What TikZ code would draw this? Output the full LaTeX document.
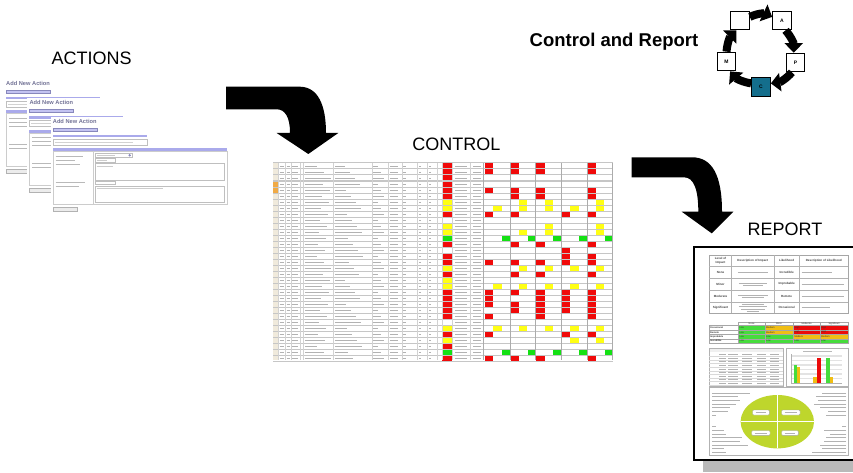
\documentclass[tikz,border=0pt]{standalone}
\usepackage{fontspec}
\setmainfont{Liberation Sans}
\usetikzlibrary{arrows.meta}
\definecolor{xred}{RGB}{240,10,10}
\definecolor{xyel}{RGB}{255,255,20}
\definecolor{xgrn}{RGB}{20,225,20}
\definecolor{rgrn}{RGB}{70,220,60}
\definecolor{rorg}{RGB}{240,190,20}
\definecolor{rred}{RGB}{235,10,10}
\definecolor{limeg}{RGB}{190,214,44}
\definecolor{tealc}{RGB}{20,110,140}
\definecolor{formbar}{RGB}{170,170,235}
\definecolor{formtitle}{RGB}{115,115,150}
\definecolor{sheetleft}{RGB}{240,234,220}
\definecolor{sheetorange}{RGB}{240,170,70}
\newcommand\scell[5]{\fill[#5] ({#1+#2},{163+6*(#3)}) rectangle ({#1+#2+8.3},{169+6*(#4)});}
\newcommand\mcell[3]{\fill[#3] (441.7,{163+6*(#1)}) rectangle (451.7,{169+6*(#2)});}
\newcommand\actionform[3]{%
\begin{scope}[shift={(#1,#2)}]
\fill[white] (-2,-2) rectangle (176,94);
\node[anchor=north west, inner sep=0pt, font=\fontsize{5.7}{6}\selectfont\bfseries, text=formtitle] (#3) at (0,0) {Add New Action};
\filldraw[fill=formbar!70, draw=formbar!80!black, line width=.3] (0,8.7) rectangle (44,11.7);
\fill[formbar] (0,16) rectangle (94,18.3);
\draw[gray!50, line width=.3] (0,20) rectangle (94,26);
\draw[gray!35, line width=.8] (2,23) -- (80,23);
\fill[formbar] (0,29.3) rectangle (174,32.7);
\draw[gray!40, line width=.4] (0,32.7) rectangle (174,85) (40.7,32.7) -- (40.7,85);
\foreach \yy/\w in {37/27,41/19,45.5/24,63.5/29,67.5/23} \draw[gray!55, line width=.8] (3,\yy) -- ++(\w,0);
\draw[gray!50, line width=.3] (42,34.5) rectangle (79,38) (42,39.3) rectangle (62,42.7) (42,44.5) rectangle (171.3,61) (42,62.3) rectangle (62,65.5) (42,67.2) rectangle (171.3,82.7);
\fill[formbar!80!black] (77,36.3) circle (1.3);
\draw[gray!40, line width=.7] (44,36.3) -- (62,36.3) (44,41) -- (54,41) (44,47) -- (60,47) (44,69.5) -- (110,69.5);
\filldraw[fill=gray!15, draw=gray!60, line width=.3] (0,87.7) rectangle (24.7,91.7);
\end{scope}}
\tikzset{
  lbl/.style={anchor=base, inner sep=0pt, font=\fontsize{18}{20}\selectfont},
  pbox/.style={draw, line width=1.2pt, minimum size=18.5pt, inner sep=0pt, font=\fontsize{5}{5}\selectfont\bfseries},
  cyc/.style={line width=8pt, -{Triangle[length=9.5pt,width=18pt]}},
  sq/.style={gray!60, line width=1pt},
  rt/.style={gray!60, line width=.8pt},
  tiny/.style={inner sep=0pt, font=\fontsize{3}{3.5}\selectfont\bfseries, text=black!75},
  tinier/.style={inner sep=0pt, font=\fontsize{2.4}{2.8}\selectfont, text=black!80}
}
\begin{document}
\begin{tikzpicture}[x=1pt,y=-1pt]
\clip (0,0) rectangle (853,473);
\fill[white] (0,0) rectangle (853,473);

% ---------- labels ----------
\node[lbl] (actions) at (91.7,65) {ACTIONS};
\node[lbl] (control) at (456.3,150.7) {CONTROL};
\node[lbl] (report) at (785,235.3) {REPORT};
\node[anchor=base, inner sep=0pt, font=\fontsize{18.5}{20}\selectfont\bfseries] (cr) at (614,47) {Control and Report};

% ---------- forms ----------
\actionform{6}{81}{f1}
\actionform{29.3}{100.3}{f2}
\actionform{52.7}{119}{f3}

% ---------- big arrows ----------
\fill[black] (226,86.7) -- (300,86.7) .. controls (318,87) and (326,105) .. (326,133)
  -- (338.3,133) -- (308.3,154) -- (276.7,133) -- (290,133)
  .. controls (290,117) and (285,109.3) .. (276.7,109.3) -- (226,109.3) -- cycle;
\fill[black] (631.7,157.3) -- (692,157.3) .. controls (712,157.3) and (722,175) .. (722,211.7)
  -- (733.3,211.7) -- (711.7,233.3) -- (681.7,211.7) -- (698.3,211.7)
  .. controls (698.3,190) and (694,177.3) .. (684,177.3) -- (631.7,177.3) -- cycle;

% ---------- spreadsheet ----------
\fill[white] (273,163) rectangle (613,360);
\fill[sheetleft] (273,163) rectangle (278.3,360);
\fill[sheetorange] (273,181) rectangle (278.3,193);
% main column
\mcell{0}{5}{xred}\mcell{6}{7}{xyel}\mcell{8}{8}{xred}\mcell{10}{11}{xyel}
\mcell{12}{12}{xgrn}\mcell{13}{13}{xred}\mcell{15}{16}{xred}\mcell{17}{17}{xyel}
\mcell{18}{18}{xred}\mcell{19}{20}{xyel}\mcell{21}{25}{xred}\mcell{27}{27}{xyel}
\mcell{28}{28}{xred}\mcell{29}{29}{xyel}\mcell{30}{30}{xred}\mcell{31}{31}{xgrn}\mcell{32}{32}{xred}
% right groups
\foreach \g in {485,510.7,536.3,587.7} \scell{\g}{0}{0}{1}{xred};
\scell{485}{0}{4}{4}{xred}
\foreach \g in {510.7,536.3,587.7} \scell{\g}{0}{4}{5}{xred};
\foreach \g in {510.7,536.3,587.7} \scell{\g}{8.3}{6}{7}{xyel};
\foreach \g in {485,562} \scell{\g}{8.3}{7}{7}{xyel};
\foreach \g in {485,510.7,562,587.7} \scell{\g}{0}{8}{8}{xred};
\foreach \g in {536.3,587.7} \scell{\g}{8.3}{10}{11}{xyel};
\scell{510.7}{8.3}{11}{11}{xyel}
\foreach \g in {485,510.7,536.3,562,587.7} \scell{\g}{16.9}{12}{12}{xgrn};
\foreach \g in {510.7,536.3,587.7} \scell{\g}{0}{13}{13}{xred};
\scell{562}{0}{14}{16}{xred}
\scell{587.7}{0}{15}{16}{xred}
\foreach \g in {485,510.7,536.3} \scell{\g}{0}{16}{16}{xred};
\foreach \g in {510.7,536.3,562,587.7} \scell{\g}{8.3}{17}{17}{xyel};
\foreach \g in {510.7,536.3,587.7} \scell{\g}{0}{18}{18}{xred};
\foreach \g in {485,510.7,536.3,562,587.7} \scell{\g}{8.3}{20}{20}{xyel};
\scell{485}{0}{21}{23}{xred}
\scell{485}{0}{25}{25}{xred}
\scell{510.7}{0}{21}{21}{xred}
\scell{510.7}{0}{23}{24}{xred}
\scell{536.3}{0}{21}{25}{xred}
\scell{562}{0}{21}{24}{xred}
\scell{587.7}{0}{21}{25}{xred}
\foreach \g in {485,510.7,536.3,562,587.7} \scell{\g}{8.3}{27}{27}{xyel};
\foreach \g in {485,562,587.7} \scell{\g}{0}{28}{28}{xred};
\foreach \g in {562,587.7} \scell{\g}{8.3}{29}{29}{xyel};
\foreach \g in {485,510.7,536.3,562,587.7} \scell{\g}{16.9}{31}{31}{xgrn};
\foreach \g in {485,510.7,536.3,587.7} \scell{\g}{0}{32}{32}{xred};
% grid
\foreach \i in {0,...,33} \draw[gray!45, line width=1pt] (273,{163+6*\i}) -- (613,{163+6*\i});
\foreach \x in {278.3,285,290.7,300,303.3,333.3,371.7,388.3,401.7,416.7,426.7,436.7,441.7,451.7,470}
  \draw[gray!35, line width=.4pt] (\x,163) -- (\x,360);
\foreach \x in {483.3,510,535.6,561.3,587,612.7}
  \draw[gray!65, line width=.9pt] (\x,163) -- (\x,360);
% cell text
\foreach \i in {0,...,32}{
  \pgfmathsetmacro\yy{163+6*\i+3.2}
  \pgfmathsetmacro\wa{12+mod(\i*7,15)}
  \pgfmathsetmacro\wb{10+mod(\i*5,19)}
  \pgfmathsetmacro\wc{5+mod(\i*3,9)}
  \draw[sq] (279.5,\yy) -- (284,\yy) (286.5,\yy) -- (289.5,\yy) (292,\yy) -- (298,\yy)
    (305,\yy) -- ++(\wa,0) (335,\yy) -- ++(\wb,0) (373,\yy) -- ++(\wc,0)
    (390,\yy) -- (398,\yy) (403,\yy) -- (406,\yy) (419,\yy) -- (421,\yy) (429,\yy) -- (431,\yy)
    (455,\yy) -- (467,\yy) (473,\yy) -- (481,\yy);
}

% ---------- report page ----------
\fill[gray!55] (703,461) rectangle (853,471.5);
\fill[white] (694,247) rectangle (860,460);
\draw[line width=1.5pt] (860,247) -- (694,247) -- (694,460) -- (860,460);
% table 1
\draw[gray!70, line width=.8pt] (709.3,255) rectangle (848.3,313.3);
\foreach \yy in {266,278,290,302} \draw[gray!60, line width=.5pt] (709.3,\yy) -- (848.3,\yy);
\foreach \x in {731.7,774,799.3} \draw[gray!60, line width=.5pt] (\x,255) -- (\x,313.3);
\node[tiny, align=center] (h1) at (720.5,260.5) {Level of\\Impact};
\node[tiny] (h2) at (752.8,260.5) {Description of Impact};
\node[tiny] (h3) at (786.6,260.5) {Likelihood};
\node[tiny] (h4) at (823.8,260.5) {Description of Likelihood};
\node[tiny] (i1) at (720.5,272) {None};
\node[tiny] (i2) at (720.5,284) {Minor};
\node[tiny] (i3) at (720.5,296) {Moderate};
\node[tiny] (i4) at (720.5,307.6) {Significant};
\node[tiny] (l1) at (786.6,272) {Incredible};
\node[tiny] (l2) at (786.6,284) {Improbable};
\node[tiny] (l3) at (786.6,296) {Remote};
\node[tiny] (l4) at (786.6,307.6) {Occasional};
\foreach \yy/\w in {272/30,283/28,285.5/20,295/30,297.5/22,304/22,306.5/28,309/24,311/12}
  \draw[rt, line width=.6pt] ({752.8-\w/2},\yy) -- ++(\w,0);
\foreach \yy/\w in {272/30,284/42,296/42,307.6/28}
  \draw[rt, line width=.6pt] (801.5,\yy) -- ++(\w,0);
% table 2
\foreach \r/\a/\b/\c/\d in {0/rgrn/rorg/rred/rred,1/rgrn/rorg/rred/rred,2/rgrn/rgrn/rorg/rorg,3/rgrn/rgrn/rgrn/rgrn}{
  \fill[\a] (738.3,{325.7+4.4*\r}) rectangle (765,{330.1+4.4*\r});
  \fill[\b] (765,{325.7+4.4*\r}) rectangle (793.3,{330.1+4.4*\r});
  \fill[\c] (793.3,{325.7+4.4*\r}) rectangle (820,{330.1+4.4*\r});
  \fill[\d] (820,{325.7+4.4*\r}) rectangle (848.3,{330.1+4.4*\r});
}
\draw[gray!70, line width=.5pt] (709,325.7) rectangle (848.3,343.3) (738.3,322) rectangle (848.3,325.7);
\foreach \yy in {330.1,334.5,338.9} \draw[gray!70, line width=.4pt] (709,\yy) -- (848.3,\yy);
\foreach \x in {738.3,765,793.3,820} \draw[gray!70, line width=.4pt] (\x,322) -- (\x,343.3);
\node[tinier] (c1) at (751.6,323.9) {None};
\node[tinier] (c2) at (779.1,323.9) {Minor};
\node[tinier] (c3) at (806.6,323.9) {Moderate};
\node[tinier] (c4) at (834.1,323.9) {Significant};
\node[tinier, font=\fontsize{2.4}{2.8}\selectfont\bfseries, anchor=west] (r1) at (710,327.9) {Occasional};
\node[tinier, font=\fontsize{2.4}{2.8}\selectfont\bfseries, anchor=west] (r2) at (710,332.3) {Remote};
\node[tinier, font=\fontsize{2.4}{2.8}\selectfont\bfseries, anchor=west] (r3) at (710,336.7) {Improbable};
\node[tinier, font=\fontsize{2.4}{2.8}\selectfont\bfseries, anchor=west] (r4) at (710,341.1) {Incredible};
\foreach \r/\a/\b/\c/\d in {0/Low/Medium/High/High,1/Low/Medium/High/High,2/Low/Low/Medium/Medium,3/Low/Low/Low/Low}{
  \node[tinier, anchor=west] (m\r a) at (739.3,{327.9+4.4*\r}) {\a};
  \node[tinier, anchor=west] (m\r b) at (766,{327.9+4.4*\r}) {\b};
  \node[tinier, anchor=west] (m\r c) at (794.3,{327.9+4.4*\r}) {\c};
  \node[tinier, anchor=west] (m\r d) at (821,{327.9+4.4*\r}) {\d};
}
% table 3
\draw[gray!60, line width=.5pt] (709.3,348.3) rectangle (783.3,386.7);
\fill[gray!12] (709.6,348.6) rectangle (783,352);
\foreach \i in {0,...,8}{
  \pgfmathsetmacro\yy{354.5+3.6*\i}
  \draw[gray!30, line width=.3pt] (709.3,{\yy+1.8}) -- (783.3,{\yy+1.8});
  \draw[gray!60, line width=.7pt] (719,\yy) -- (726,\yy) (728,\yy) -- (738,\yy) (742,\yy) -- (752,\yy) (757,\yy) -- (766,\yy) (770,\yy) -- (779,\yy);
}
% chart
\draw[gray!60, line width=.5pt] (786,348.3) rectangle (848.3,386.7);
\draw[gray!55, line width=.6pt] (803,351.5) -- (832,351.5);
\foreach \yy in {356,360.5,365,369.5,374,378.5} \draw[gray!22, line width=1.8pt] (791,\yy) -- (842,\yy);
\draw[gray!60, line width=.4pt] (791,354) -- (791,383.3) -- (842,383.3);
\fill[rgrn] (794,365) rectangle (797.3,383.3);
\fill[rorg] (797.3,367) rectangle (800,383.3);
\fill[rorg] (813,377) rectangle (816.7,383.3);
\fill[rred] (816.7,357.7) rectangle (820.7,383.3);
\fill[rgrn] (826,357.7) rectangle (830,383.3);
\fill[rorg] (830,377) rectangle (833.3,383.3);
% bottom section
\draw[gray!60, line width=.5pt] (709.3,387.7) rectangle (848.3,455.7);
\fill[limeg] (777.3,421.7) ellipse [x radius=36.7, y radius=26.7];
\draw[white, line width=1.2pt] (777.3,395) -- (777.3,448.4) (740.6,421.7) -- (814,421.7);
\foreach \a/\b/\c/\d in {752.7/410/769.3/415,781.7/410/800/415,751.7/430.7/770/435.3,781.7/430.7/798.3/435.3}{
  \filldraw[fill=white, draw=gray!70, line width=.4pt, rounded corners=1pt] (\a,\b) rectangle (\c,\d);
  \draw[gray!60, line width=.6pt] ({\a+3},{(\b+\d)/2}) -- ({\c-3},{(\b+\d)/2});
}
\foreach \yy/\w in {393/38,396.7/26,400.3/28,404/24,407.7/18,411.3/16,415/4,426.7/4,430.3/12,434/14,437.7/30,441.3/28,445/36,448.7/12,452.3/14}
  \draw[rt] (712,\yy) -- ++(\w,0);
\foreach \yy/\w in {393/24,396.7/30,400.3/28,404/32,407.7/26,411.3/18,415/20,426.7/4,430.3/22,434/16,437.7/20,441.3/22,445/26,448.7/24,452.3/34}
  \draw[rt] (846,\yy) -- ++(-\w,0);

% ---------- PDCA cycle ----------
\node[pbox] (b0) at (740,20.5) {};
\node[pbox] (bA) at (782,20.5) {A};
\node[pbox] (bP) at (795.5,62.5) {P};
\node[pbox, fill=tealc] (bC) at (761,87) {C};
\node[pbox] (bM) at (726.5,61.5) {M};
\draw[cyc] (b0.20) to[bend left=25] (bA.160);
\draw[cyc] (bA.-70) to[bend left=20] (bP.100);
\draw[cyc] (bP.-110) to[bend left=20] (bC.20);
\draw[cyc] (bC.160) to[bend left=20] (bM.-70);
\draw[cyc] (bM.90) to[bend left=20] (b0.-110);
\end{tikzpicture}
\end{document}
